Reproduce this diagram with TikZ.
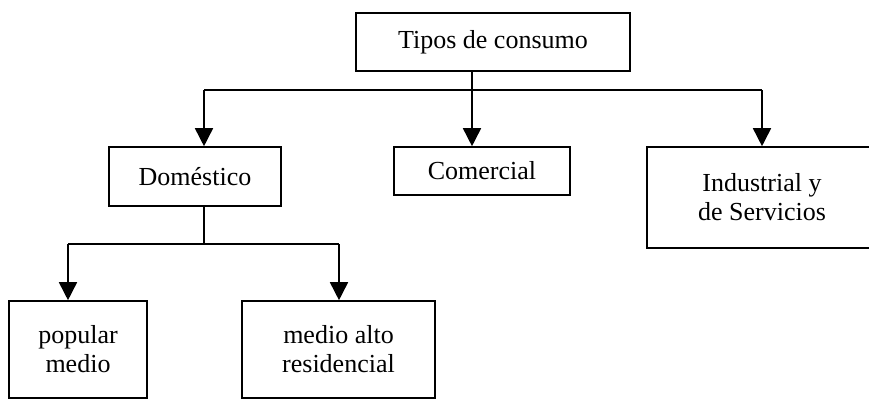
\documentclass[tikz,border=0pt]{standalone}
\usepackage{fontspec}
\setmainfont{Liberation Serif}
\usetikzlibrary{arrows.meta}

\begin{document}
\begin{tikzpicture}[x=1pt,y=-1pt,
    caja/.style={draw,line width=1.6pt,inner sep=0pt,align=center,
      font=\fontsize{26}{29}\selectfont},
    flecha/.style={line width=1.6pt,-{Triangle[width=18pt,length=18pt]}}]
      \useasboundingbox (0,0) rectangle (869,400);
      \clip (0,0) rectangle (869,400);
      \node[caja,minimum width=274pt,minimum height=58pt] (tipos) at (493,42) {Tipos de consumo};
      \node[caja,minimum width=172pt,minimum height=59pt] (domestico) at (195,176.5) {Doméstico};
      \node[caja,minimum width=176pt,minimum height=48pt] (comercial) at (482,171) {Comercial};
      \node[caja,minimum width=230pt,minimum height=101pt] (industrial) at (762,197.5) {Industrial y\\de Servicios};
      \node[caja,minimum width=138pt,minimum height=97pt] (popular) at (78,349.5) {popular\\medio};
      \node[caja,minimum width=193pt,minimum height=97pt] (residencial) at (338.5,349.5) {medio alto\\residencial};
      % primer nivel
      \coordinate (c1) at (472,90);
      \coordinate (c1i) at (204,90);
      \coordinate (c1d) at (762,90);
      \draw[line width=1.6pt] (c1 |- tipos.south) -- (c1);
      \draw[line width=1.6pt] (c1i) -- (c1d);
      \draw[flecha] (c1i) -- (c1i |- domestico.north);
      \draw[flecha] (c1) -- (c1 |- comercial.north);
      \draw[flecha] (c1d) -- (c1d |- industrial.north);
      % segundo nivel
      \coordinate (c2) at (204,244);
      \coordinate (c2i) at (68,244);
      \coordinate (c2d) at (339,244);
      \draw[line width=1.6pt] (c2 |- domestico.south) -- (c2);
      \draw[line width=1.6pt] (c2i) -- (c2d);
      \draw[flecha] (c2i) -- (c2i |- popular.north);
      \draw[flecha] (c2d) -- (c2d |- residencial.north);
\end{tikzpicture}
\end{document}
